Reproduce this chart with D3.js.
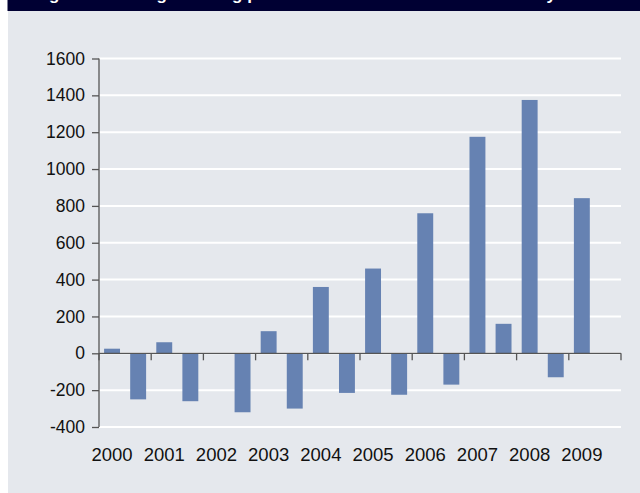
<!DOCTYPE html>
<html>
<head>
<meta charset="utf-8">
<script src="https://cdn.jsdelivr.net/npm/d3@7"></script>
<style>
  body { margin: 0; background: #ffffff; }
  svg { display: block; font-family: "Liberation Sans", Arial, sans-serif; }
</style>
</head>
<body>
<div id="chart"></div>
<script>
var years = ["2000", "2001", "2002", "2003", "2004", "2005", "2006", "2007", "2008", "2009"];
var halves = ["H1", "H2"];
// two bars per year (null = no bar)
var values = [25, -250, 60, -260, null, -320, 120, -300, 360, -215,
              460, -225, 760, -170, 1175, 160, 1375, -130, 842, null];
var yTicks = [-400, -200, 0, 200, 400, 600, 800, 1000, 1200, 1400, 1600];
var title = "Figure 1: Average holding period of shares on the NYSE in half-years";

var svgWidth = 640;
var svgHeight = 493;

var margin = { top: 58.5, right: 19, bottom: 66, left: 99 };
var chartWidth = svgWidth - margin.left - margin.right;
var chartHeight = svgHeight - margin.top - margin.bottom;

var svg = d3.select("#chart")
  .append("svg")
  .attr("width", svgWidth)
  .attr("height", svgHeight);

// panel + header bar
svg.append("rect")
  .attr("x", 8).attr("y", 11)
  .attr("width", svgWidth - 8).attr("height", svgHeight - 11)
  .attr("fill", "#e5e8ed");

svg.append("rect")
  .attr("x", 7.5).attr("y", 0)
  .attr("width", svgWidth).attr("height", 11)
  .attr("fill", "#000033");

// title sits above the top edge, only its descenders show
svg.append("text")
  .attr("x", 34).attr("y", -0.5)
  .attr("fill", "#ffffff")
  .style("font-weight", "bold")
  .style("font-size", "17px")
  .text(title);

var chartGroup = svg.append("g")
  .attr("transform", `translate(${margin.left}, ${margin.top})`);

var cats = [];
years.forEach(function (y) {
  halves.forEach(function (h) { cats.push(y + " " + h); });
});
var data = cats.map(function (c, i) { return { cat: c, year: c.split(" ")[0], value: values[i] }; });

var xScale = d3.scaleBand()
  .domain(cats)
  .range([0, chartWidth])
  .paddingInner(0.39)
  .paddingOuter(0.195);

// year boundaries for the tick marks
var xYear = d3.scaleLinear()
  .domain([0, years.length])
  .range([0, chartWidth]);

var yScale = d3.scaleLinear()
  .domain([-400, 1600])
  .range([chartHeight, 0]);

// gridlines
chartGroup.selectAll(".grid")
  .data(yTicks)
  .enter()
  .append("line")
  .attr("x1", 0)
  .attr("x2", chartWidth)
  .attr("y1", d => yScale(d))
  .attr("y2", d => yScale(d))
  .attr("stroke", "#ffffff")
  .attr("stroke-width", 2);

// bars
chartGroup.selectAll(".bar")
  .data(data.filter(d => d.value !== null))
  .enter()
  .append("rect")
  .attr("x", d => xScale(d.cat))
  .attr("width", xScale.bandwidth())
  .attr("y", d => yScale(Math.max(0, d.value)))
  .attr("height", d => Math.abs(yScale(d.value) - yScale(0)))
  .attr("fill", "#6682b2");

// y axis
var leftAxis = d3.axisLeft(yScale)
  .tickValues(yTicks)
  .tickSize(7)
  .tickPadding(7)
  .tickFormat(d => String(d));

var y_axis = chartGroup.append("g").call(leftAxis);
y_axis.select(".domain").attr("stroke", "#555555").attr("stroke-width", 1.3).attr("d", `M0,0V${chartHeight}`);
y_axis.selectAll(".tick line").attr("stroke", "#555555").attr("stroke-width", 1.3);
y_axis.selectAll("text")
  .style("font-size", "17.5px")
  .attr("fill", "#111111");

// x axis along zero
var zeroY = yScale(0);
var x_axis = chartGroup.append("g")
  .attr("transform", `translate(0, ${zeroY})`);

x_axis.append("line")
  .attr("x1", 0).attr("x2", chartWidth)
  .attr("y1", 0).attr("y2", 0)
  .attr("stroke", "#555555")
  .attr("stroke-width", 1.3);

x_axis.selectAll(".xtick")
  .data(d3.range(years.length + 1))
  .enter()
  .append("line")
  .attr("x1", d => xYear(d)).attr("x2", d => xYear(d))
  .attr("y1", 0).attr("y2", 7)
  .attr("stroke", "#555555")
  .attr("stroke-width", 1.3);

// year labels under the first bar of each year
chartGroup.selectAll(".xlabel")
  .data(years)
  .enter()
  .append("text")
  .attr("x", d => xScale(d + " H1") + xScale.bandwidth() / 2)
  .attr("y", chartHeight + 34)
  .attr("text-anchor", "middle")
  .style("font-size", "18.5px")
  .attr("fill", "#111111")
  .text(d => d);
</script>
</body>
</html>
